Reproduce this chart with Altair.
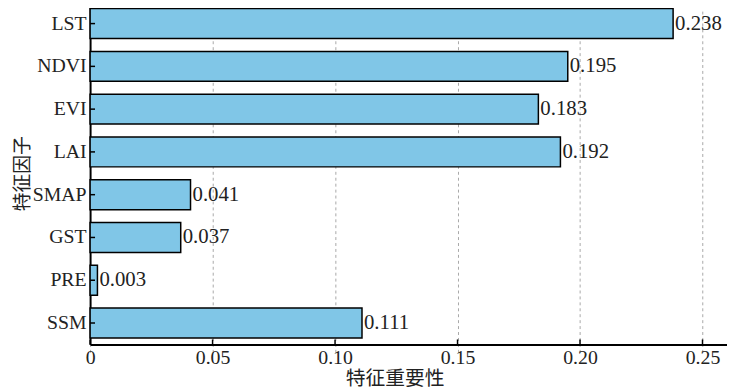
import altair as alt
import pandas as pd

features = ["LST", "NDVI", "EVI", "LAI", "SMAP", "GST", "PRE", "SSM"]
importance = [0.238, 0.195, 0.183, 0.192, 0.041, 0.037, 0.003, 0.111]
tick_values = [0, 0.05, 0.10, 0.15, 0.20, 0.25]

df = pd.DataFrame({"feature": features, "importance": importance})
ticks_df = pd.DataFrame({"t": tick_values})

W = 644
H = 338
SERIF = "Liberation Serif"
CJK = "Noto Sans CJK SC"

xscale = alt.Scale(domain=[0, 0.26], nice=False, zero=True)
yscale = alt.Scale(range=[-8, H], paddingInner=0.3, paddingOuter=0.15)

x_axis = alt.Axis(
    values=tick_values,
    labelExpr="datum.value == 0 ? '0' : format(datum.value, '.2f')",
    labelFont=SERIF, labelFontSize=20, labelColor="#222222",
    labelPadding=3, tickSize=0,
    domainColor="black", domainWidth=2,
    grid=True, gridDash=[3, 3], gridColor="#a8a8a8", gridWidth=1,
    title="特征重要性", titleFont=CJK, titleFontSize=20, titleFontWeight="normal",
    titleColor="#222222", titleX=308, titleY=35, titleBaseline="middle", titleAlign="center",
    labelFlush=False,
)
y_axis = alt.Axis(
    labelFont=SERIF, labelFontSize=20, labelColor="#222222",
    labelPadding=4, tickSize=0,
    domainColor="black", domainWidth=2, grid=False,
    title="特征因子", titleFont=CJK, titleFontSize=19, titleFontWeight="normal",
    titleColor="#222222", titleX=-68, titleY=165, titleAngle=-90,
    titleBaseline="middle", titleAlign="center",
)

base = alt.Chart(df)

bars = base.mark_bar(color="#80C6E7", stroke="black", strokeWidth=1.5).encode(
    x=alt.X("importance:Q", scale=xscale, axis=x_axis),
    y=alt.Y("feature:N", sort=features, scale=yscale, axis=y_axis),
)

labels = base.mark_text(align="left", baseline="middle", dx=2, font=SERIF,
                        fontSize=21, color="#222222").encode(
    x=alt.X("importance:Q", scale=xscale),
    y=alt.Y("feature:N", sort=features, scale=yscale),
    text=alt.Text("importance:Q", format=".3f"),
)

yticks = base.mark_rule(color="black", strokeWidth=1.5).encode(
    x=alt.value(0), x2=alt.value(5),
    y=alt.Y("feature:N", sort=features, scale=yscale),
)

xticks = alt.Chart(ticks_df).mark_rule(color="black", strokeWidth=1.5).encode(
    x=alt.X("t:Q", scale=xscale),
    y=alt.value(H), y2=alt.value(H - 5),
)

chart = alt.layer(bars, labels, yticks, xticks).properties(
    width=W, height=H,
    autosize=alt.AutoSizeParams(type="none"),
    padding={"left": 83, "top": 0, "right": 0, "bottom": 46},
    background="white",
).configure_view(stroke=None)

chart.save("out.html", embed_options={"renderer": "svg", "actions": False})
